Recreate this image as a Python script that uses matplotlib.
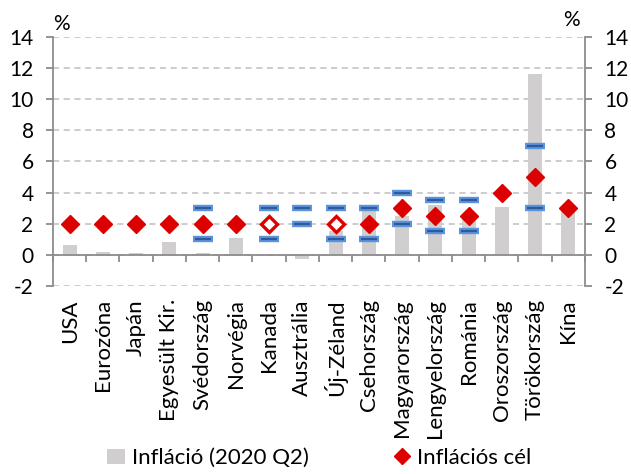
import numpy as np
import matplotlib
matplotlib.use("Agg")
from matplotlib import pyplot as plt
from matplotlib.lines import Line2D
from matplotlib.patches import Patch

plt.rcParams["font.family"] = ["Lato", "DejaVu Sans"]

# data
countries = ["USA", "Eurozóna", "Japán", "Egyesült Kir.", "Svédország",
             "Norvégia", "Kanada", "Ausztrália", "Új-Zéland", "Csehország",
             "Magyarország", "Lengyelország", "Románia", "Oroszország",
             "Törökország", "Kína"]
inflation = [0.6, 0.2, 0.1, 0.8, 0.1, 1.1, 0.0, -0.3, 1.5, 3.2,
             2.5, 3.2, 2.6, 3.1, 11.6, 2.8]
target = [2, 2, 2, 2, 2, 2, 2, np.nan, 2, 2, 3, 2.5, 2.5, 4, 5, 3]
# targets given only as midpoint of a range (hollow diamond)
target_hollow = [False, False, False, False, False, False, True, False,
                 True, False, False, False, False, False, False, False]
band_low = [np.nan, np.nan, np.nan, np.nan, 1, np.nan, 1, 2, 1, 1,
            2, 1.5, 1.5, np.nan, 3, np.nan]
band_high = [np.nan, np.nan, np.nan, np.nan, 3, np.nan, 3, 3, 3, 3,
             4, 3.5, 3.5, np.nan, 7, np.nan]
y_ticks = [-2, 0, 2, 4, 6, 8, 10, 12, 14]

GREY = "#D0CECE"
RED = "#DD0000"
BLUE_LIGHT = "#5B93E0"
BLUE_DARK = "#2E5A96"
AXIS = "#8C8C8C"

x = np.arange(len(countries))
target = np.array(target, dtype=float)
hollow = np.array(target_hollow)

fig = plt.figure(figsize=(6.31, 4.74), dpi=100)
ax = fig.add_axes([0.084, 0.397, 0.843, 0.525])

ax.bar(x, inflation, width=0.42, color=GREY, zorder=2)

# tolerance bands
for vals in (band_low, band_high):
    ax.plot(x, vals, ls="none", marker="_", ms=14, mew=4.6, color=BLUE_LIGHT, zorder=3)
    ax.plot(x, vals, ls="none", marker="_", ms=11, mew=1.6, color=BLUE_DARK, zorder=4)

# targets
ax.plot(x[~hollow], target[~hollow], ls="none", marker="D", ms=9, color=RED,
        mec=RED, zorder=5)
ax.plot(x[hollow], target[hollow], ls="none", marker="D", ms=8, mfc="white",
        mec=RED, mew=2.4, zorder=5)

ax.set_xlim(-0.5, len(countries) - 0.5)
ax.set_ylim(-2, 14)
ax.set_yticks(y_ticks)
ax.set_yticklabels([str(v) for v in y_ticks])
ax.yaxis.grid(True, ls=(0, (4, 3)), color="#BFBFBF", lw=1.1, zorder=0)
ax.set_axisbelow(True)

ax.spines["top"].set_visible(False)
ax.spines["bottom"].set_position(("data", 0))
for side in ("left", "right", "bottom"):
    ax.spines[side].set_color(AXIS)
    ax.spines[side].set_linewidth(1.3)

ax.tick_params(axis="y", which="both", left=True, right=True, labelleft=True,
               labelright=True, color=AXIS, width=1.3, length=5,
               labelsize=15, pad=9)
ax.set_xticks(x)
ax.set_xticklabels(countries, rotation=90, fontsize=16)
ax.set_xticks(np.arange(len(countries) + 1) - 0.5, minor=True)
ax.tick_params(axis="x", which="major", length=0, pad=32)
ax.tick_params(axis="x", which="minor", length=5, width=1.3, color=AXIS)

ax.text(0.0, 1.01, "%", transform=ax.transAxes, fontsize=15, ha="left", va="bottom")
ax.text(0.99, 1.03, "%", transform=ax.transAxes, fontsize=15, ha="right", va="bottom")

handles = [Patch(facecolor=GREY, edgecolor="none"),
           Line2D([], [], ls="none", marker="D", ms=8, color=RED)]
fig.legend(handles, ["Infláció (2020 Q2)", "Inflációs cél"], loc="lower center",
           bbox_to_anchor=(0.506, -0.03), ncol=2, frameon=False, fontsize=16,
           handlelength=0.8, handletextpad=0.3, columnspacing=3.8)

fig.savefig("out.png", dpi=100)
